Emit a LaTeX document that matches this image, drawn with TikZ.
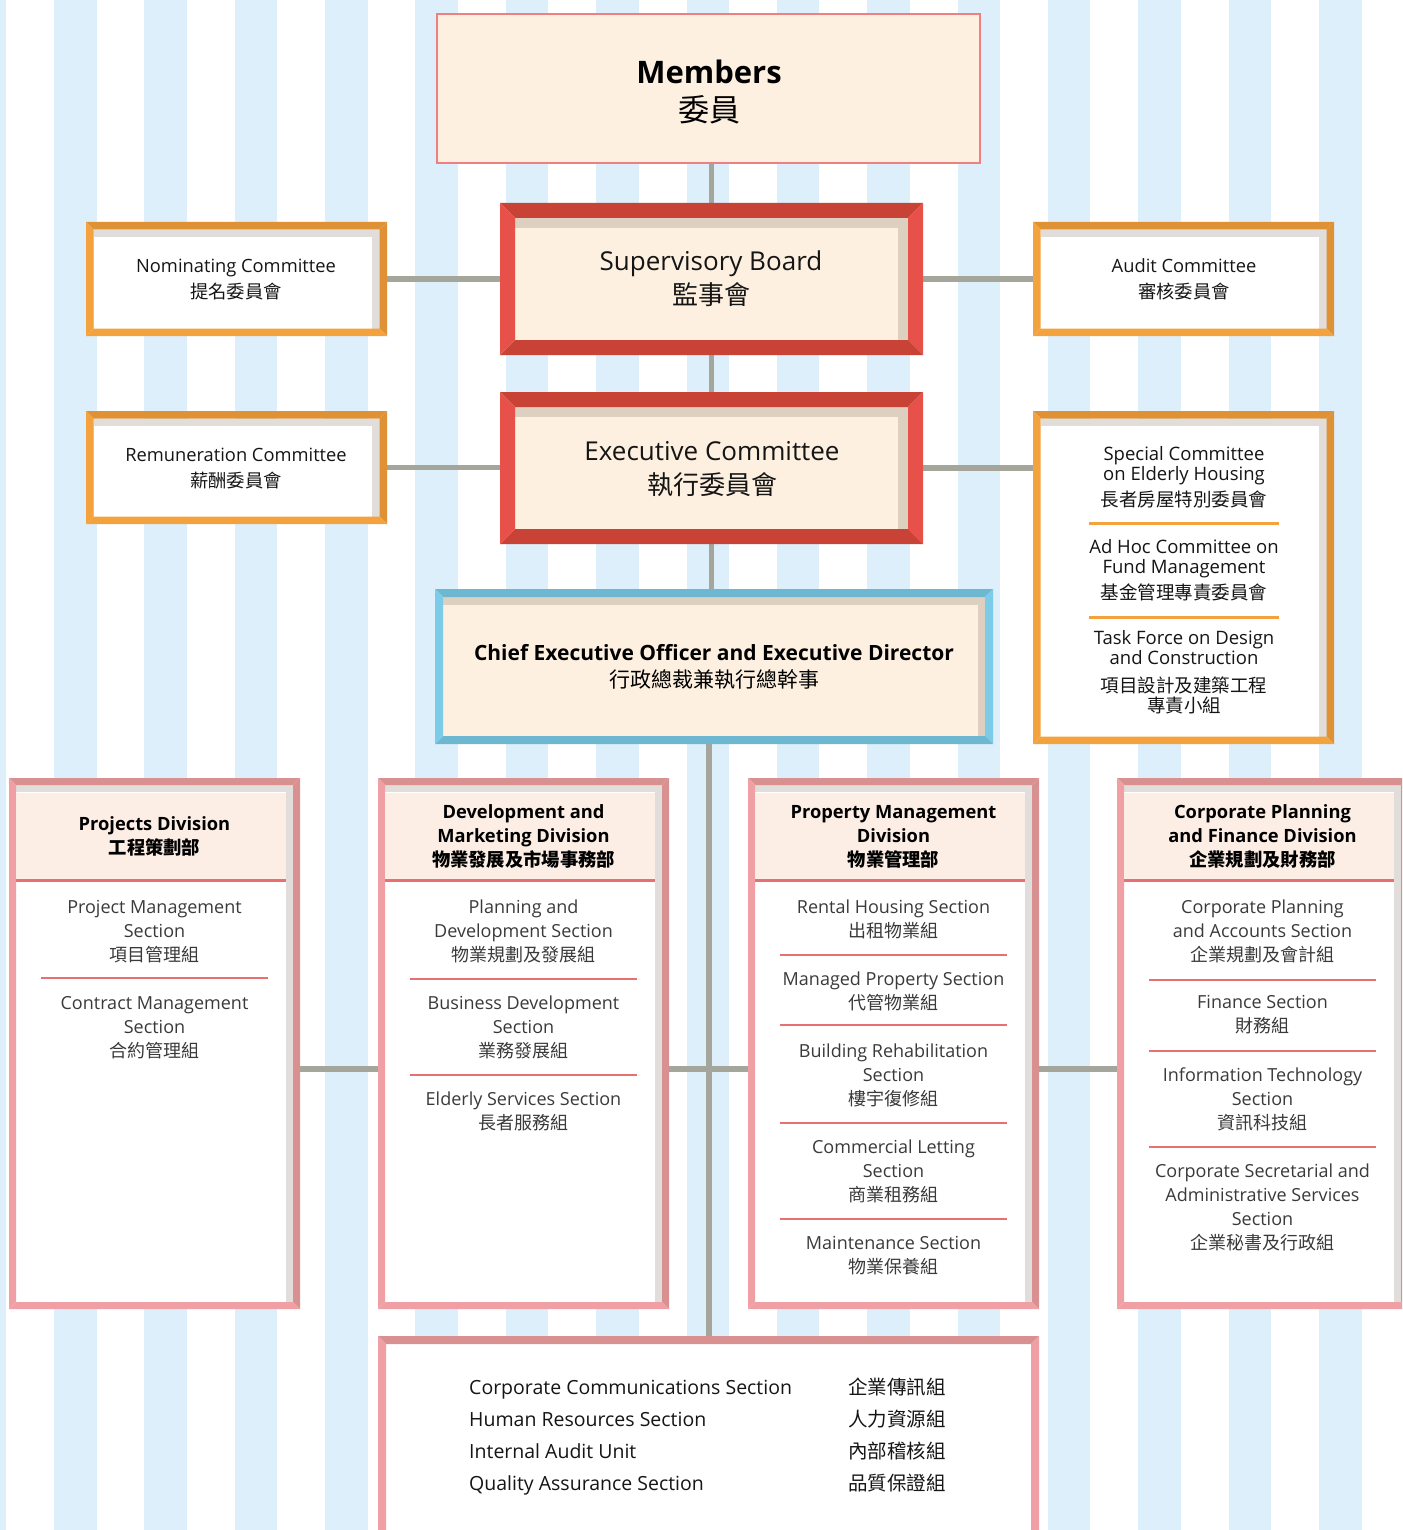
\documentclass[tikz,border=0pt]{standalone}
\usepackage{fontspec}
\setmainfont{Open Sans}
\newfontfamily\cjk{Noto Sans CJK TC}
\usetikzlibrary{calc,fit}

\definecolor{stripe}{HTML}{DCEFFA}
\definecolor{connc}{HTML}{A4A69C}
\definecolor{beige}{HTML}{FDF0E0}
\definecolor{memborder}{HTML}{F08080}
\definecolor{reddark}{HTML}{C84335}
\definecolor{redlight}{HTML}{E8504A}
\definecolor{tanshadow}{HTML}{DDD0C0}
\definecolor{orgdark}{HTML}{DE9135}
\definecolor{orglight}{HTML}{F4A23E}
\definecolor{grayshadow}{HTML}{E0DDDA}
\definecolor{bluedark}{HTML}{6DB8D0}
\definecolor{bluelight}{HTML}{7CCBE8}
\definecolor{pinkdark}{HTML}{D89090}
\definecolor{pinklight}{HTML}{F0A0A5}
\definecolor{headfill}{HTML}{FCEDE5}
\definecolor{secline}{HTML}{E87070}
\definecolor{txtgray}{HTML}{3A3A3A}
\definecolor{txtdark}{HTML}{151515}

\newcommand\zh[1]{{\cjk #1}}
\newcommand\fs[2]{\fontsize{#1}{#2}\selectfont}

% #1 node, #2 frame width, #3 shadow width, #4 top, #5 right, #6 bottom, #7 left, #8 shadow colour, #9 fill
\newcommand\bevbox[9]{%
  \fill[#8] ($(#1.north west)+(#2,#2)$) rectangle ($(#1.south east)+(-#2,-#2)$);
  \fill[#9] ($(#1.north west)+(#2,#2+#3)$) rectangle ($(#1.south east)+(-#2-#3,-#2)$);
  \fill[#4] (#1.north west) -- (#1.north east) -- ($(#1.north east)+(-#2,#2)$) -- ($(#1.north west)+(#2,#2)$) -- cycle;
  \fill[#5] (#1.north east) -- (#1.south east) -- ($(#1.south east)+(-#2,-#2)$) -- ($(#1.north east)+(-#2,#2)$) -- cycle;
  \fill[#6] (#1.south east) -- (#1.south west) -- ($(#1.south west)+(#2,-#2)$) -- ($(#1.south east)+(-#2,-#2)$) -- cycle;
  \fill[#7] (#1.south west) -- (#1.north west) -- ($(#1.north west)+(#2,#2)$) -- ($(#1.south west)+(#2,-#2)$) -- cycle;
}
% division box: #1 node, #2 left x
\newcommand\divframe[2]{%
  \bevbox{#1}{7}{7}{pinkdark}{pinkdark}{pinklight}{pinklight}{grayshadow}{white}
  \fill[headfill] (#2+7,793) rectangle (#2+277,879);
  \draw[secline, line width=3pt] (#2+7,880) -- (#2+277,880);
}
\newcommand\divsep[2]{\draw[secline, line width=2.5pt] (#1+32,#2) -- (#1+259,#2);}

\begin{document}
\begin{tikzpicture}[x=1pt,y=-1pt,
  framebox/.style={rectangle, inner sep=0pt, outer sep=0pt, draw=none},
  conn/.style={draw=connc, line width=5.5pt},
  txt/.style={align=center, inner sep=0pt, text=txtdark},
  sectxt/.style={align=center, inner sep=0pt, text=txtgray, font=\fs{18}{24}},
  headtxt/.style={align=center, inner sep=0pt, text=black, font=\fs{18.3}{24}\bfseries}]

\useasboundingbox (0,0) rectangle (1402,1530);
\clip (0,0) rectangle (1402,1530);
\fill[white] (0,0) rectangle (1402,1530);

% background stripes
\foreach \k in {-1,...,14}
  \fill[stripe] ({54+90.36*\k},0) rectangle ++(42.5,1530);

% box nodes
\node[framebox, fit={(436,13) (981,164)}] (mem) {};
\node[framebox, fit={(500,203) (923,355)}] (sb) {};
\node[framebox, fit={(500,392) (923,544)}] (ec) {};
\node[framebox, fit={(86,222) (387,336)}] (nom) {};
\node[framebox, fit={(86,411) (387,524)}] (rem) {};
\node[framebox, fit={(1033,222) (1334,336)}] (aud) {};
\node[framebox, fit={(1033,411) (1334,744)}] (spc) {};
\node[framebox, fit={(435,589) (993,744)}] (ceo) {};
\node[framebox, fit={(9,778) (300,1309)}] (proj) {};
\node[framebox, fit={(378,778) (669,1309)}] (dm) {};
\node[framebox, fit={(748,778) (1039,1309)}] (pm) {};
\node[framebox, fit={(1117,778) (1408,1309)}] (cf) {};
\node[framebox, fit={(378,1336) (1039,1545)}] (bot) {};
\coordinate (spine) at (709,1069);

% connectors
\draw[conn] (sb.north) -- (sb.north |- mem.south);
\draw[conn] (sb.south) -- (sb.south |- ec.north);
\draw[conn] (ec.south) -- (ec.south |- ceo.north);
\draw[conn] (nom.east) -- (nom.east -| sb.west);
\draw[conn] (sb.east) -- (sb.east -| aud.west);
\draw[conn] (rem.east) -- (rem.east -| ec.west);
\draw[conn] (ec.east) -- (ec.east -| spc.west);
\draw[conn] (ceo.south -| spine) -- (bot.north -| spine);
\draw[conn] (proj.east |- spine) -- (cf.west |- spine);

% frames
\fill[beige] (mem.north west) rectangle (mem.south east);
\draw[memborder, line width=2pt] ($(mem.north west)+(1,1)$) rectangle ($(mem.south east)+(-1,-1)$);
\bevbox{sb}{15}{10}{reddark}{redlight}{reddark}{redlight}{tanshadow}{beige}
\bevbox{ec}{15}{10}{reddark}{redlight}{reddark}{redlight}{tanshadow}{beige}
\bevbox{nom}{7.5}{7.5}{orgdark}{orgdark}{orglight}{orglight}{grayshadow}{white}
\bevbox{rem}{7.5}{7.5}{orgdark}{orgdark}{orglight}{orglight}{grayshadow}{white}
\bevbox{aud}{7.5}{7.5}{orgdark}{orgdark}{orglight}{orglight}{grayshadow}{white}
\bevbox{spc}{7.5}{7.5}{orgdark}{orgdark}{orglight}{orglight}{grayshadow}{white}
\bevbox{ceo}{8}{7.5}{bluedark}{bluelight}{bluedark}{bluelight}{tanshadow}{beige}
\divframe{proj}{9}
\divframe{dm}{378}
\divframe{pm}{748}
\divframe{cf}{1117}
\bevbox{bot}{8}{0}{pinkdark}{pinklight}{pinklight}{pinklight}{white}{white}

% separators
\draw[orglight, line width=3pt] (1089,523) -- (1279,523);
\draw[orglight, line width=3pt] (1089,617) -- (1279,617);
\divsep{9}{978}
\divsep{378}{979}
\divsep{378}{1075}
\divsep{748}{955}
\divsep{748}{1025}
\divsep{748}{1123}
\divsep{748}{1219}
\divsep{1117}{980}
\divsep{1117}{1051}
\divsep{1117}{1147}

% texts
\node[txt, text=black, font=\fs{31}{38}] (tmem) at (709,92) {\textbf{Members}\\\zh{委員}};
\node[txt, font=\fs{26}{34}] (tsb) at (711,279) {Supervisory Board\\\zh{監事會}};
\node[txt, font=\fs{26}{34}] (tec) at (712,469) {Executive Committee\\\zh{執行委員會}};
\node[txt, font=\fs{18.3}{26}] (tnom) at (236,279.5) {Nominating Committee\\\zh{提名委員會}};
\node[txt, font=\fs{18.3}{26}] (trem) at (236,468.5) {Remuneration Committee\\\zh{薪酬委員會}};
\node[txt, font=\fs{18.3}{26}] (taud) at (1184,279.5) {Audit Committee\\\zh{審核委員會}};
\node[txt, font=\fs{18.5}{20.5}] (tsc1) at (1184,477.5) {Special Committee\\on Elderly Housing\\[5.5pt]\zh{長者房屋特別委員會}};
\node[txt, font=\fs{18.5}{20.5}] (tsc2) at (1184,570) {Ad Hoc Committee on\\Fund Management\\[5.5pt]\zh{基金管理專責委員會}};
\node[txt, font=\fs{18.5}{20}] (tsc3) at (1184,672) {Task Force on Design\\and Construction\\[8pt]\zh{項目設計及建築工程}\\\zh{專責小組}};
\node[txt, text=black, font=\fs{21}{27}] (tceo) at (714,666.5) {\textbf{Chief Executive Officer and Executive Director}\\\zh{行政總裁兼執行總幹事}};

\node[headtxt] (hproj) at (154.5,836.5) {Projects Division\\\zh{工程策劃部}};
\node[headtxt] (hdm) at (523.5,837) {Development and\\Marketing Division\\\zh{物業發展及市場事務部}};
\node[headtxt] (hpm) at (893.5,837) {Property Management\\Division\\\zh{物業管理部}};
\node[headtxt] (hcf) at (1262.5,837) {Corporate Planning\\and Finance Division\\\zh{企業規劃及財務部}};

\node[sectxt] (p1) at (154.5,931.5) {Project Management\\Section\\\zh{項目管理組}};
\node[sectxt] (p2) at (154.5,1027.5) {Contract Management\\Section\\\zh{合約管理組}};

\node[sectxt] (d1) at (523.5,931) {Planning and\\Development Section\\\zh{物業規劃及發展組}};
\node[sectxt] (d2) at (523.5,1027) {Business Development\\Section\\\zh{業務發展組}};
\node[sectxt] (d3) at (523.5,1111) {Elderly Services Section\\\zh{長者服務組}};

\node[sectxt] (m1) at (893.5,919) {Rental Housing Section\\\zh{出租物業組}};
\node[sectxt] (m2) at (893.5,991) {Managed Property Section\\\zh{代管物業組}};
\node[sectxt] (m3) at (893.5,1075) {Building Rehabilitation\\Section\\\zh{樓宇復修組}};
\node[sectxt] (m4) at (893.5,1171) {Commercial Letting\\Section\\\zh{商業租務組}};
\node[sectxt] (m5) at (893.5,1255.5) {Maintenance Section\\\zh{物業保養組}};

\node[sectxt] (c1) at (1262.5,931) {Corporate Planning\\and Accounts Section\\\zh{企業規劃及會計組}};
\node[sectxt] (c2) at (1262.5,1015) {Finance Section\\\zh{財務組}};
\node[sectxt] (c3) at (1262.5,1099) {Information Technology\\Section\\\zh{資訊科技組}};
\node[sectxt] (c4) at (1262.5,1207) {Corporate Secretarial and\\Administrative Services\\Section\\\zh{企業秘書及行政組}};

\node[inner sep=0pt, align=left, anchor=west, text=txtdark, font=\fs{19.5}{32}] (bote) at (469,1437.5)
  {Corporate Communications Section\\Human Resources Section\\Internal Audit Unit\\Quality Assurance Section};
\node[inner sep=0pt, align=left, anchor=west, text=txtdark, font=\fs{19.5}{32}\cjk] (botc) at (848,1435.5)
  {企業傳訊組\\人力資源組\\內部稽核組\\品質保證組};
\end{tikzpicture}
\end{document}
